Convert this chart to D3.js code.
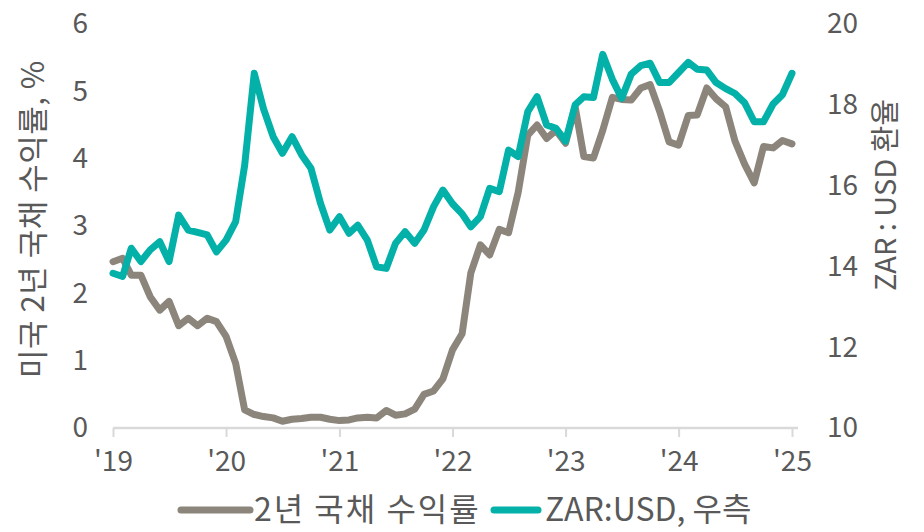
<!DOCTYPE html>
<html>
<head>
<meta charset="utf-8">
<script src="https://cdn.jsdelivr.net/npm/d3@7"></script>
<style>
  body { margin: 0; background: #fff; }
  svg text { font-family: "Noto Sans CJK KR", "Noto Sans", sans-serif; fill: #595959; }
</style>
</head>
<body>
<svg width="924" height="532"></svg>
<script>
// monthly, Jan 2019 .. Jan 2025
var months = d3.timeMonth.range(new Date(2019, 0, 1), new Date(2025, 1, 1));

// US 2y treasury yield, %
var yield2y = [
  2.47, 2.52, 2.27, 2.27, 1.95, 1.75, 1.88, 1.52, 1.63, 1.52, 1.63, 1.58,
  1.36, 0.96, 0.27, 0.20, 0.17, 0.15, 0.10, 0.13, 0.14, 0.16, 0.16, 0.13,
  0.11, 0.12, 0.15, 0.16, 0.15, 0.26, 0.19, 0.21, 0.28, 0.50, 0.55, 0.73,
  1.16, 1.40, 2.30, 2.72, 2.57, 2.95, 2.90, 3.50, 4.35, 4.50, 4.30, 4.42,
  4.23, 4.77, 4.03, 4.01, 4.42, 4.91, 4.88, 4.87, 5.05, 5.10, 4.70, 4.25,
  4.20, 4.64, 4.65, 5.05, 4.89, 4.77, 4.26, 3.92, 3.64, 4.18, 4.16, 4.27,
  4.22
];

// USD/ZAR (right axis)
var zarUsd = [
  13.83, 13.75, 14.45, 14.12, 14.41, 14.61, 14.12, 15.27, 14.90, 14.84, 14.78, 14.36,
  14.65, 15.11, 16.50, 18.78, 17.90, 17.21, 16.80, 17.21, 16.76, 16.43, 15.56, 14.90,
  15.23, 14.82, 15.02, 14.65, 13.99, 13.95, 14.57, 14.86, 14.57, 14.90, 15.48, 15.89,
  15.55, 15.30, 14.98, 15.23, 15.93, 15.85, 16.88, 16.72, 17.83, 18.20, 17.50, 17.42,
  17.10, 18.00, 18.20, 18.18, 19.25, 18.63, 18.16, 18.76, 18.97, 19.03, 18.55, 18.55,
  18.80, 19.05, 18.88, 18.86, 18.55, 18.40, 18.28, 18.05, 17.58, 17.58, 18.02, 18.25,
  18.78
];

var leftTicks = [0, 1, 2, 3, 4, 5, 6];
var rightTicks = [10, 12, 14, 16, 18, 20];
var yearTicks = [2019, 2020, 2021, 2022, 2023, 2024, 2025];

var svg = d3.select("svg");

var x = d3.scaleTime()
    .domain([new Date(2019, 0, 1), new Date(2025, 0, 1)])
    .range([113, 792]);
var yL = d3.scaleLinear().domain([0, 6]).range([428, 24]);
var yR = d3.scaleLinear().domain([10, 20]).range([428, 24]);

// x axis
var xAxis = svg.append("g")
    .attr("transform", "translate(0,428)")
    .call(d3.axisBottom(x)
        .tickValues(yearTicks.map(function (y) { return new Date(y, 0, 1); }))
        .tickSize(9)
        .tickPadding(14)
        .tickFormat(function (d) { return "'" + String(d.getFullYear()).slice(2); }));
xAxis.select(".domain").attr("d", "M113,0H798").attr("stroke", "#d9d9d9").attr("stroke-width", 2.5);
xAxis.selectAll(".tick line").attr("stroke", "#d9d9d9").attr("stroke-width", 2);
xAxis.selectAll(".tick text").attr("font-size", 28).attr("fill", "#595959");

// left axis
var lAxis = svg.append("g")
    .attr("transform", "translate(88,0)")
    .call(d3.axisLeft(yL).tickValues(leftTicks).tickFormat(d3.format("d")).tickSize(0).tickPadding(0));
lAxis.select(".domain").remove();
lAxis.selectAll(".tick text").attr("font-size", 28).attr("fill", "#595959");

// right axis
var rAxis = svg.append("g")
    .attr("transform", "translate(827,0)")
    .call(d3.axisRight(yR).tickValues(rightTicks).tickSize(0).tickPadding(0));
rAxis.select(".domain").remove();
rAxis.selectAll(".tick text").attr("font-size", 28).attr("fill", "#595959");

// axis titles
svg.append("text")
    .attr("transform", "translate(44,219) rotate(-90)")
    .attr("text-anchor", "middle")
    .attr("font-size", 31)
    .attr("letter-spacing", 0.5)
    .text("미국 2년 국채 수익률, %");

svg.append("text")
    .attr("transform", "translate(896,195) rotate(-90)")
    .attr("text-anchor", "middle")
    .attr("font-size", 29)
    .text("ZAR : USD 환율");

// lines
var lineL = d3.line()
    .x(function (d, i) { return x(months[i]); })
    .y(function (d) { return yL(d); });
var lineR = d3.line()
    .x(function (d, i) { return x(months[i]); })
    .y(function (d) { return yR(d); });

svg.append("path")
    .datum(yield2y)
    .attr("d", lineL)
    .attr("fill", "none")
    .attr("stroke", "#8c857b")
    .attr("stroke-width", 7)
    .attr("stroke-linejoin", "round")
    .attr("stroke-linecap", "round");

svg.append("path")
    .datum(zarUsd)
    .attr("d", lineR)
    .attr("fill", "none")
    .attr("stroke", "#03b1a9")
    .attr("stroke-width", 7)
    .attr("stroke-linejoin", "round")
    .attr("stroke-linecap", "round");

// legend
var legend = [
  { label: "2년 국채 수익률", color: "#8c857b", x1: 181, x2: 250, tx: 254, ls: 2 },
  { label: "ZAR:USD, 우측", color: "#03b1a9", x1: 494, x2: 538, tx: 545, ls: 0 }
];
var lg = svg.append("g");
legend.forEach(function (d) {
    lg.append("line")
        .attr("x1", d.x1).attr("x2", d.x2)
        .attr("y1", 510).attr("y2", 510)
        .attr("stroke", d.color)
        .attr("stroke-width", 7)
        .attr("stroke-linecap", "round");
    lg.append("text")
        .attr("x", d.tx).attr("y", 521)
        .attr("font-size", 32)
        .attr("letter-spacing", d.ls)
        .attr("fill", "#404040")
        .text(d.label);
});
</script>
</body>
</html>
